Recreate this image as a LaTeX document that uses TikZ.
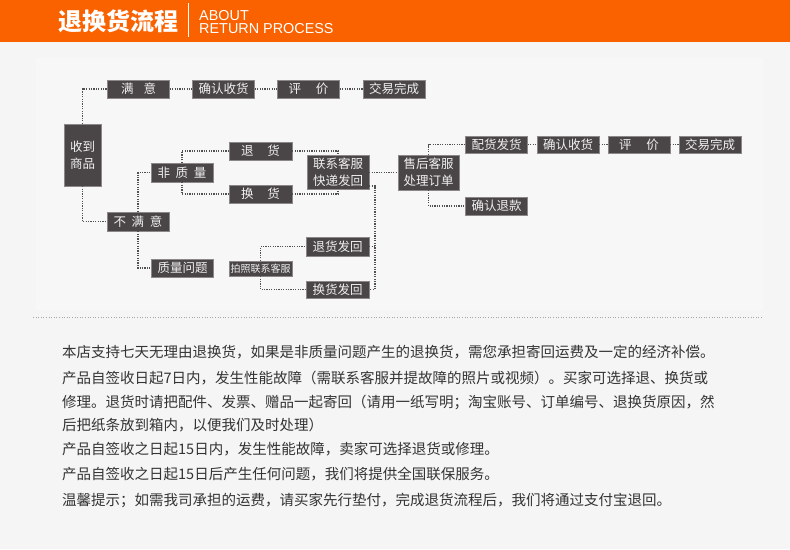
\documentclass[tikz,border=0pt]{standalone}
\usepackage{fontspec}
\setmainfont{Liberation Sans}
\newfontfamily\cjk{Noto Sans CJK SC}
\definecolor{headorange}{RGB}{250,98,0}
\definecolor{pagebg}{RGB}{245,245,245}
\definecolor{panelbg}{RGB}{247,247,247}
\definecolor{boxfill}{RGB}{74,69,70}
\definecolor{boxedge}{RGB}{140,136,137}
\definecolor{linkgray}{RGB}{80,80,80}
\definecolor{bodytext}{RGB}{51,51,51}

\begin{document}
\begin{tikzpicture}[
    x=1pt, y=-1pt,
    stage/.style={rectangle, draw=boxedge, line width=0.5pt, fill=boxfill, text=white!94!black, minimum width=62pt, minimum height=18pt, inner sep=0pt, align=center, font=\cjk\fontsize{12.5}{17}\selectfont},
    link/.style={draw=linkgray, line width=1.2pt, dash pattern=on 1.2pt off 1.2pt},
    body/.style={anchor=base west, inner sep=0pt, text=bodytext, font=\cjk\fontsize{14.5}{17}\selectfont}
]
    \useasboundingbox (0,0) rectangle (790,549);
    \fill[pagebg] (0,0) rectangle (790,549);
    \fill[panelbg] (36,58) rectangle (763,310);

    % header
    \fill[headorange] (0,0) rectangle (790,42);
    \node[inner sep=0pt, text=white, font=\cjk\bfseries\fontsize{24}{24}\selectfont] (title) at (118,21) {退换货流程};
    \draw[white, line width=1pt] (188.5,3) -- (188.5,37);
    \node[anchor=west, inner sep=0pt, align=left, text=white, font=\fontsize{14.4}{12.2}\selectfont] (about) at (199,22) {ABOUT\\RETURN PROCESS};

    % flow boxes
    \node[stage, minimum width=37pt, minimum height=62pt] (recv) at (82.5,155) {收到\\商品};
    \node[stage] (sat) at (138.5,89) {满\hspace{0.8em}意};
    \node[stage] (conf1) at (223.5,89) {确认收货};
    \node[stage] (eval1) at (308.5,89) {评\hspace{1.2em}价};
    \node[stage] (done1) at (394,89) {交易完成};

    \node[stage, minimum height=19pt] (unsat) at (138,221.5) {不\hspace{0.45em}满\hspace{0.45em}意};
    \node[stage, minimum height=19pt] (nonq) at (182,172.5) {非\hspace{0.45em}质\hspace{0.45em}量};
    \node[stage] (qual) at (182.5,268) {质量问题};
    \node[stage, minimum width=63pt] (ret) at (260.5,151) {退\hspace{1.1em}货};
    \node[stage, minimum width=63pt] (exch) at (260.5,194) {换\hspace{1.1em}货};
    \node[stage, minimum height=34pt] (contact) at (338,172.5) {联系客服\\快递发回};
    \node[stage, minimum width=61pt, minimum height=35pt] (service) at (428.5,172.5) {售后客服\\处理订单};

    \node[stage, minimum height=17pt] (ship) at (496.5,144.5) {配货发货};
    \node[stage, minimum height=17pt] (conf2) at (568,144.5) {确认收货};
    \node[stage, minimum height=17pt] (eval2) at (639,144.5) {评\hspace{1.2em}价};
    \node[stage, minimum height=17pt] (done2) at (710,144.5) {交易完成};
    \node[stage] (refund) at (496.5,206) {确认退款};

    \node[stage, minimum width=63pt, minimum height=15pt, font=\cjk\fontsize{10}{12}\selectfont] (photo) at (260.5,268.5) {拍照联系客服};
    \node[stage, minimum width=63pt, minimum height=19pt] (retback) at (337.5,246.5) {退货发回};
    \node[stage, minimum width=63pt, minimum height=17pt] (exchback) at (337.5,289.5) {换货发回};
    \coordinate (merge) at (375,186);

    % connectors
    \draw[link] (recv.north) |- (sat.west);
    \draw[link] (recv.south) |- (unsat.west);
    \draw[link] (sat) -- (conf1) -- (eval1) -- (done1);
    \draw[link] (unsat.north) |- (nonq.west);
    \draw[link] (unsat.south) |- (qual.west);
    \draw[link] (nonq.north) |- (ret.west);
    \draw[link] (nonq.south) |- (exch.west);
    \draw[link] (ret.east) -| (contact.north);
    \draw[link] (exch.east) -| (contact.south);
    \draw[link] (contact) -- (service);
    \draw[link] (service.north) |- (ship.west);
    \draw[link] (service.south) |- (refund.west);
    \draw[link] (ship) -- (conf2) -- (eval2) -- (done2);
    \draw[link] (photo.north) |- (retback.west);
    \draw[link] (photo.south) |- (exchback.west);
    \draw[link] (merge -| contact.east) -- (merge) |- (exchback.east);
    \draw[link] (retback.east) -- (retback.east -| merge);

    % separator
    \draw[gray!70, line width=0.8pt, dash pattern=on 1pt off 1.6pt] (33,317) -- (763,317);

    % notes
    \node[body] (line1) at (62,357.5) {本店支持七天无理由退换货，如果是非质量问题产生的退换货，需您承担寄回运费及一定的经济补偿。};
    \node[body] (line2) at (62,383.5) {产品自签收日起7日内，发生性能故障（需联系客服并提故障的照片或视频）。买家可选择退、换货或};
    \node[body] (line3) at (62,407.5) {修理。退货时请把配件、发票、赠品一起寄回（请用一纸写明；淘宝账号、订单编号、退换货原因，然};
    \node[body] (line4) at (62,430.5) {后把纸条放到箱内，以便我们及时处理）};
    \node[body] (line5) at (62,454.5) {产品自签收之日起15日内，发生性能故障，卖家可选择退货或修理。};
    \node[body] (line6) at (62,479.5) {产品自签收之日起15日后产生任何问题，我们将提供全国联保服务。};
    \node[body] (line7) at (62,505.5) {温馨提示；如需我司承担的运费，请买家先行垫付，完成退货流程后，我们将通过支付宝退回。};
\end{tikzpicture}
\end{document}
